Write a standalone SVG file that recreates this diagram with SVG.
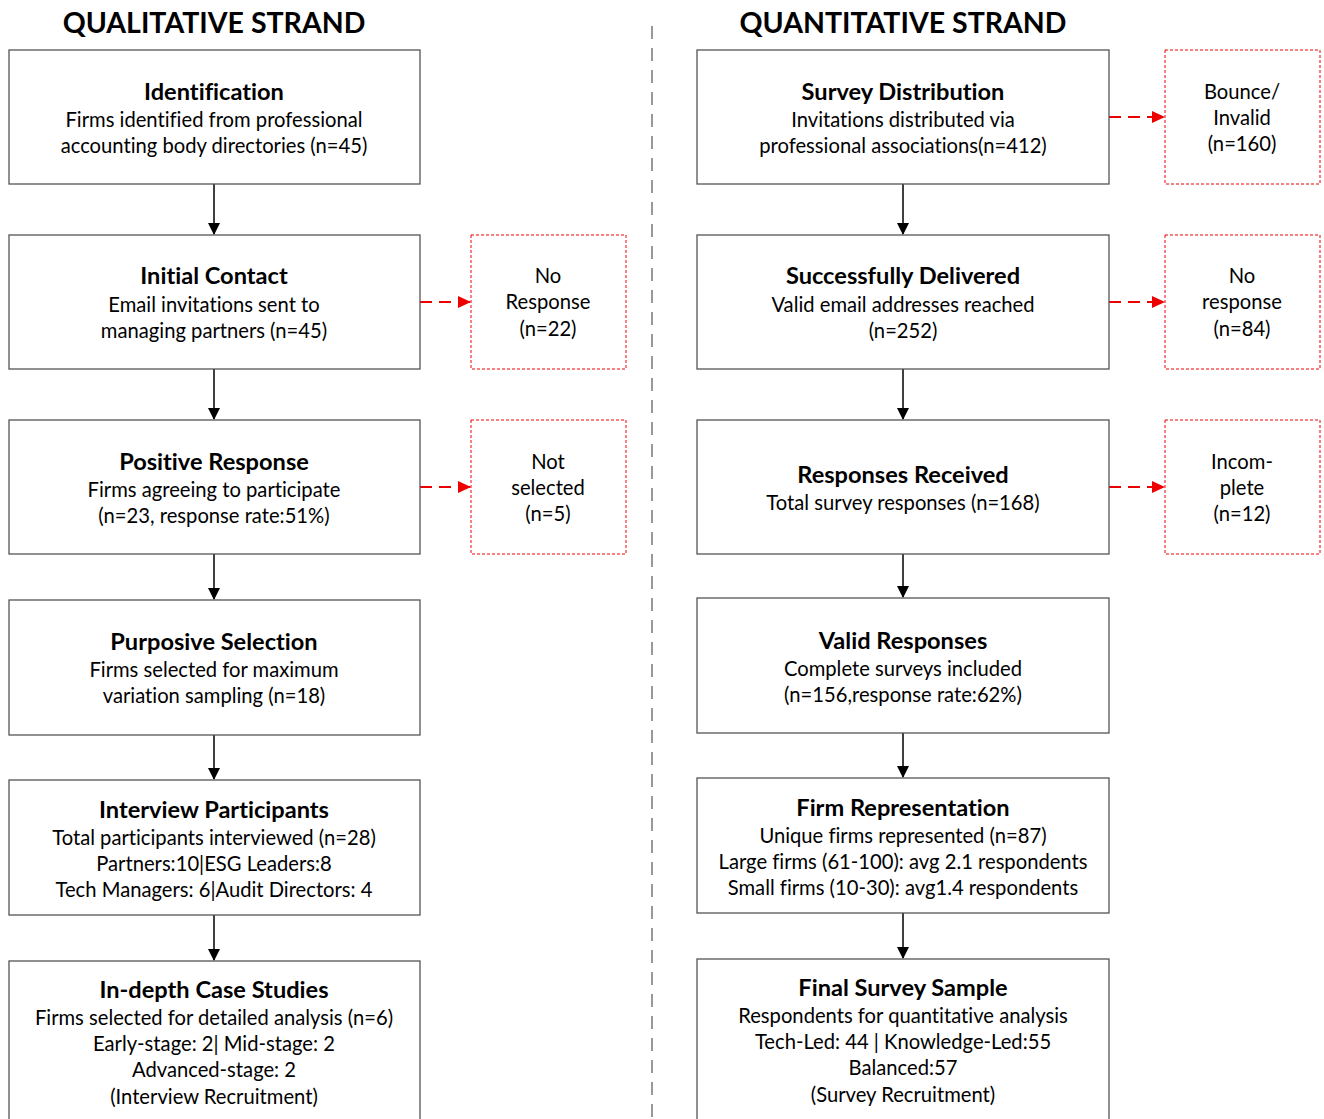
<svg xmlns="http://www.w3.org/2000/svg" width="1324" height="1119" viewBox="0 0 1324 1119">
<defs>
<style>
text{font-family:Lato,"Open Sans","Liberation Sans",sans-serif;fill:#000;text-anchor:middle;font-size:20.2px;font-variant-ligatures:none}
.h{font-weight:bold;font-size:23.6px}
.t{font-weight:bold;font-size:28.5px}
.box{fill:#fff;stroke:#555;stroke-width:1.3}
.ex{fill:#fff;stroke:#e00;stroke-width:1;stroke-dasharray:3 2}
.a{stroke:#000;stroke-width:1.5;fill:none}
.r{stroke:#e00;stroke-width:2;stroke-dasharray:12 7;fill:none}
</style>
<marker id="ah" markerWidth="12" markerHeight="12" refX="11" refY="6" orient="auto" markerUnits="userSpaceOnUse"><path d="M0,0 L12,6 L0,12 Z" fill="#000"/></marker>
<marker id="rh" markerWidth="14" markerHeight="14" refX="13" refY="7" orient="auto" markerUnits="userSpaceOnUse"><path d="M0,1 L13,7 L0,13 Z" fill="#e00"/></marker>
</defs>
<rect width="1324" height="1119" fill="#fff"/>
<text class="t" x="214" y="33">QUALITATIVE STRAND</text>
<text class="t" x="903" y="33">QUANTITATIVE STRAND</text>
<line x1="652" y1="26" x2="652" y2="1119" stroke="#999" stroke-width="2" stroke-dasharray="13 9"/>

<g id="connectors">
<line class="a" x1="214" y1="184" x2="214" y2="234" marker-end="url(#ah)"/>
<line class="a" x1="214" y1="369" x2="214" y2="419" marker-end="url(#ah)"/>
<line class="a" x1="214" y1="554" x2="214" y2="599" marker-end="url(#ah)"/>
<line class="a" x1="214" y1="735" x2="214" y2="779" marker-end="url(#ah)"/>
<line class="a" x1="214" y1="915" x2="214" y2="960" marker-end="url(#ah)"/>
<line class="a" x1="903" y1="184" x2="903" y2="234" marker-end="url(#ah)"/>
<line class="a" x1="903" y1="369" x2="903" y2="419" marker-end="url(#ah)"/>
<line class="a" x1="903" y1="554" x2="903" y2="597" marker-end="url(#ah)"/>
<line class="a" x1="903" y1="733" x2="903" y2="777" marker-end="url(#ah)"/>
<line class="a" x1="903" y1="913" x2="903" y2="958" marker-end="url(#ah)"/>
<line class="r" x1="420" y1="302" x2="471" y2="302" marker-end="url(#rh)"/>
<line class="r" x1="420" y1="487" x2="471" y2="487" marker-end="url(#rh)"/>
<line class="r" x1="1109" y1="117" x2="1165" y2="117" marker-end="url(#rh)"/>
<line class="r" x1="1109" y1="302" x2="1165" y2="302" marker-end="url(#rh)"/>
<line class="r" x1="1109" y1="487" x2="1165" y2="487" marker-end="url(#rh)"/>
</g>

<g id="identification"><rect class="box" x="9" y="50" width="411" height="134"/>
<text class="h" x="214" y="100">Identification</text>
<text x="214" y="127">Firms identified from professional</text>
<text x="214" y="153">accounting body directories (n=45)</text></g>

<g id="initial-contact"><rect class="box" x="9" y="235" width="411" height="134"/>
<text class="h" x="214" y="284">Initial Contact</text>
<text x="214" y="312">Email invitations sent to</text>
<text x="214" y="338">managing partners (n=45)</text></g>

<g id="positive-response"><rect class="box" x="9" y="420" width="411" height="134"/>
<text class="h" x="214" y="470">Positive Response</text>
<text x="214" y="497">Firms agreeing to participate</text>
<text x="214" y="523">(n=23, response rate:51%)</text></g>

<g id="purposive-selection"><rect class="box" x="9" y="600" width="411" height="135"/>
<text class="h" x="214" y="650">Purposive Selection</text>
<text x="214" y="677">Firms selected for maximum</text>
<text x="214" y="703">variation sampling (n=18)</text></g>

<g id="interview-participants"><rect class="box" x="9" y="780" width="411" height="135"/>
<text class="h" x="214" y="818">Interview Participants</text>
<text x="214" y="845">Total participants interviewed (n=28)</text>
<text x="214" y="871">Partners:10|ESG Leaders:8</text>
<text x="214" y="897">Tech Managers: 6|Audit Directors: 4</text></g>

<g id="case-studies"><rect class="box" x="9" y="961" width="411" height="170"/>
<text class="h" x="214" y="998">In-depth Case Studies</text>
<text x="214" y="1025">Firms selected for detailed analysis (n=6)</text>
<text x="214" y="1051">Early-stage: 2| Mid-stage: 2</text>
<text x="214" y="1077">Advanced-stage: 2</text>
<text x="214" y="1104">(Interview Recruitment)</text></g>

<g id="no-response-q"><rect class="ex" x="471" y="235" width="155" height="134"/>
<text x="548" y="283">No</text>
<text x="548" y="309">Response</text>
<text x="548" y="336">(n=22)</text></g>

<g id="not-selected"><rect class="ex" x="471" y="420" width="155" height="134"/>
<text x="548" y="469">Not</text>
<text x="548" y="495">selected</text>
<text x="548" y="521">(n=5)</text></g>

<g id="survey-distribution"><rect class="box" x="697" y="50" width="412" height="134"/>
<text class="h" x="903" y="100">Survey Distribution</text>
<text x="903" y="127">Invitations distributed via</text>
<text x="903" y="153">professional associations(n=412)</text></g>

<g id="successfully-delivered"><rect class="box" x="697" y="235" width="412" height="134"/>
<text class="h" x="903" y="284">Successfully Delivered</text>
<text x="903" y="312">Valid email addresses reached</text>
<text x="903" y="338">(n=252)</text></g>

<g id="responses-received"><rect class="box" x="697" y="420" width="412" height="134"/>
<text class="h" x="903" y="483">Responses Received</text>
<text x="903" y="510">Total survey responses (n=168)</text></g>

<g id="valid-responses"><rect class="box" x="697" y="598" width="412" height="135"/>
<text class="h" x="903" y="649">Valid Responses</text>
<text x="903" y="676">Complete surveys included</text>
<text x="903" y="702">(n=156,response rate:62%)</text></g>

<g id="firm-representation"><rect class="box" x="697" y="778" width="412" height="135"/>
<text class="h" x="903" y="816">Firm Representation</text>
<text x="903" y="843">Unique firms represented (n=87)</text>
<text x="903" y="869">Large firms (61-100): avg 2.1 respondents</text>
<text x="903" y="895">Small firms (10-30): avg1.4 respondents</text></g>

<g id="final-sample"><rect class="box" x="697" y="959" width="412" height="170"/>
<text class="h" x="903" y="996">Final Survey Sample</text>
<text x="903" y="1023">Respondents for quantitative analysis</text>
<text x="903" y="1049">Tech-Led: 44 | Knowledge-Led:55</text>
<text x="903" y="1075">Balanced:57</text>
<text x="903" y="1102">(Survey Recruitment)</text></g>

<g id="bounce"><rect class="ex" x="1165" y="50" width="155" height="134"/>
<text x="1242" y="99">Bounce/</text>
<text x="1242" y="125">Invalid</text>
<text x="1242" y="151">(n=160)</text></g>

<g id="no-response-n"><rect class="ex" x="1165" y="235" width="155" height="134"/>
<text x="1242" y="283">No</text>
<text x="1242" y="309">response</text>
<text x="1242" y="336">(n=84)</text></g>

<g id="incomplete"><rect class="ex" x="1165" y="420" width="155" height="134"/>
<text x="1242" y="469">Incom-</text>
<text x="1242" y="495">plete</text>
<text x="1242" y="521">(n=12)</text></g>
</svg>
